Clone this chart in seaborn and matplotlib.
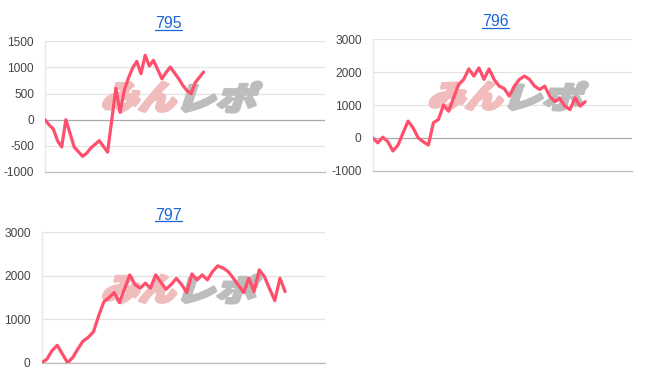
import matplotlib
matplotlib.use("Agg")
import matplotlib.pyplot as plt
import seaborn as sns
import pandas as pd
from matplotlib.textpath import TextPath
from matplotlib.patches import PathPatch
from matplotlib.font_manager import FontProperties
from matplotlib.transforms import Affine2D
from matplotlib.lines import Line2D

# ---- data ----
titles = ["795", "796", "797"]
values_795 = [0, -100, -180, -400, -520, 0, -260, -525, -610, -700, -640, -540, -470, -400,
              -510, -620, 0, 600, 140, 560, 800, 990, 1117, 881, 1232, 1027, 1136, 960, 785,
              900, 1008, 900, 790, 660, 560, 498, 709, 810, 912]
values_796 = [0, -150, 20, -120, -400, -220, 150, 510, 300, 0, -120, -220, 460, 560, 1000,
              810, 1220, 1630, 1780, 2100, 1880, 2130, 1780, 2100, 1780, 1575, 1500, 1270,
              1575, 1780, 1880, 1780, 1575, 1470, 1575, 1270, 1100, 1200, 965, 860, 1220,
              965, 1100]
values_797 = [0, 80, 280, 400, 200, 0, 120, 320, 500, 585, 714, 1080, 1400, 1500, 1613, 1382,
              1700, 2020, 1800, 1714, 1830, 1714, 2020, 1850, 1690, 1800, 1940, 1800, 1613,
              2044, 1905, 2020, 1905, 2100, 2228, 2180, 2097, 1944, 1780, 1613, 1944, 1636,
              2136, 1982, 1700, 1429, 1944, 1636]
yticks_795 = [-1000, -500, 0, 500, 1000, 1500]
yticks_796 = [-1000, 0, 1000, 2000, 3000]
yticks_797 = [0, 1000, 2000, 3000]
xmax = [67.1, 51.2, 54.7]

series = [values_795, values_796, values_797]
yticks = [yticks_795, yticks_796, yticks_797]

sns.set_style("white")
plt.rcParams['font.family'] = ['Liberation Sans', 'DejaVu Sans']

W, H = 652, 382
fig = plt.figure(figsize=(W / 100, H / 100), dpi=100)

# pixel boxes: x0, x1, ytop, ybottom
boxes = [(45, 325, 41.3, 172.0), (372.7, 631.7, 39.3, 170.7), (41.7, 325, 232.3, 362.7)]
title_pos = [(168.3, 28.3), (495.7, 26.3), (168.3, 219.5)]
wm_pos = [(105, 82, 265, 112), (431.7, 82, 591.7, 110), (105, 275, 265, 303)]

line_color = "#ff4f6d"
jp = FontProperties(family="Noto Sans CJK JP", weight="black")


def add_watermark(ax, x0, ytop, x1, ybot):
    parts = [("みん", "#f0bcbc"), ("レポ", "#bdbdbd")]
    total_w = x1 - x0
    half = total_w / 2
    for k, (txt, col) in enumerate(parts):
        p = TextPath((0, 0), txt, size=40, prop=jp)
        ext = p.get_extents()
        sx = half / ext.width * 0.9
        sy = (ybot - ytop) / ext.height
        tr = (Affine2D().translate(-ext.x0, -ext.y0).scale(sx, sy).skew_deg(18, 0)
              .translate(x0 + k * half - 4, H - ybot))
        patch = PathPatch(p, transform=tr, facecolor=col, edgecolor=col, linewidth=2.2,
                          joinstyle="round", zorder=1.5, clip_on=False)
        ax.add_patch(patch)


for i in range(3):
    x0, x1, yt, yb = boxes[i]
    ax = fig.add_axes([x0 / W, 1 - yb / H, (x1 - x0) / W, (yb - yt) / H])
    ax.set_facecolor("none")
    df = pd.DataFrame({"x": list(range(len(series[i]))), "y": series[i]})
    add_watermark(ax, *wm_pos[i])
    sns.lineplot(data=df, x="x", y="y", ax=ax, color=line_color, linewidth=2.3, zorder=3)
    ax.set_xlim(0, xmax[i])
    ax.set_ylim(min(yticks[i]), max(yticks[i]))
    ax.set_yticks(yticks[i])
    ax.set_yticklabels([str(t) for t in yticks[i]])
    ax.set_xticks([])
    ax.set_xlabel("")
    ax.set_ylabel("")
    ax.tick_params(axis="y", length=0, pad=8, labelsize=8.6, labelcolor="#444444")
    for t in yticks[i]:
        if t != 0 and t != min(yticks[i]):
            ax.axhline(t, color="#e3e3e3", linewidth=0.9, zorder=1)
    ax.axhline(0, color="#a8a8a8", linewidth=0.9, zorder=2)
    for s in ["top", "right"]:
        ax.spines[s].set_visible(False)
    ax.spines["bottom"].set_color("#bdbdbd")
    ax.spines["bottom"].set_linewidth(0.9)
    ax.spines["left"].set_color("#e6e6e6")
    ax.spines["left"].set_linewidth(0.9)

    tx, ty = title_pos[i]
    t = fig.text(tx / W, 1 - ty / H, titles[i], ha="center", va="baseline",
                 color="#1a66d2", fontsize=11.5)

fig.canvas.draw()
for txt in fig.texts:
    bb = txt.get_window_extent().transformed(fig.transFigure.inverted())
    yb = txt.get_position()[1] - 1.2 / H
    fig.add_artist(Line2D([bb.x0, bb.x1], [yb, yb], transform=fig.transFigure,
                          color="#1a66d2", linewidth=0.9))

fig.savefig("out.png", dpi=100)
